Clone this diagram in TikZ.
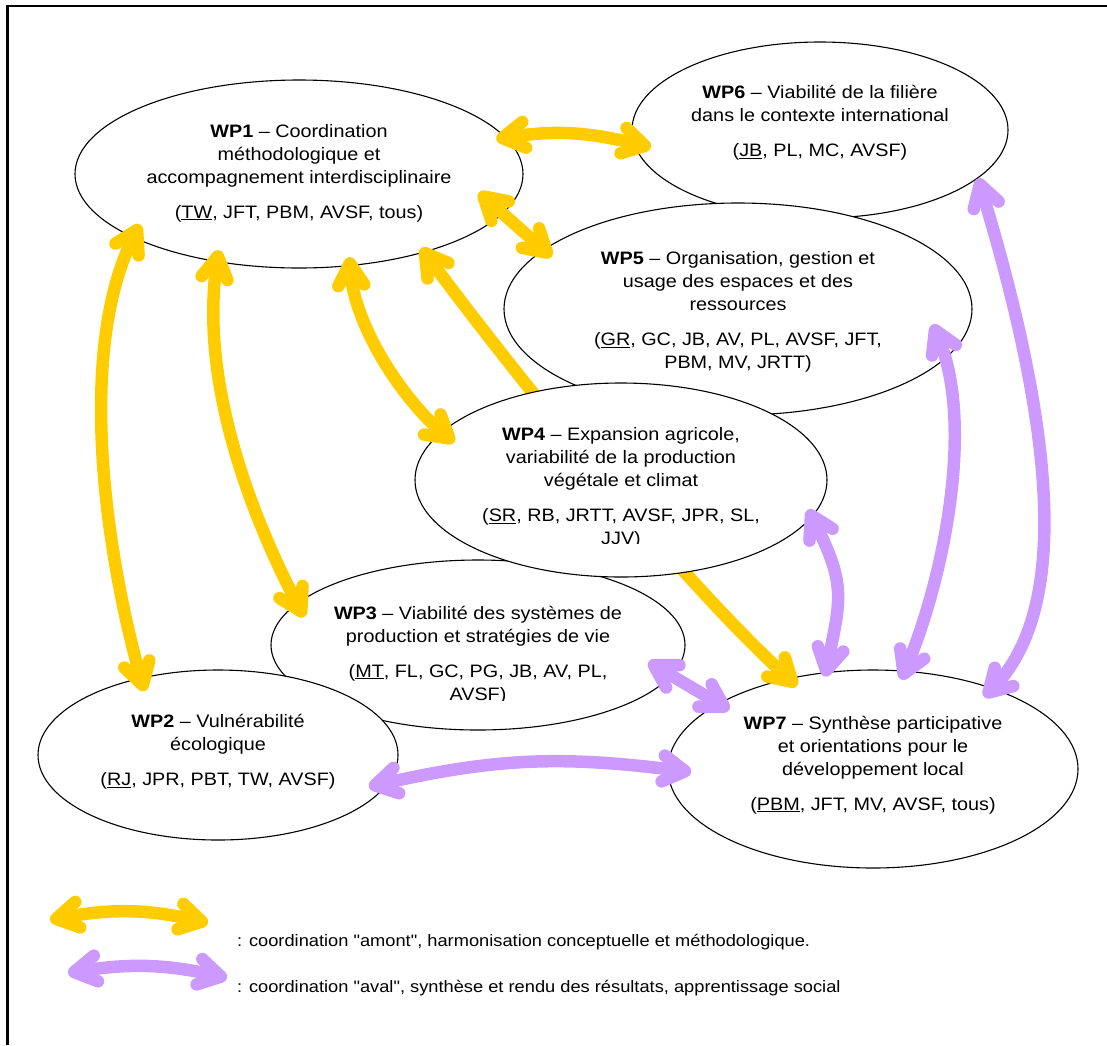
\documentclass[tikz,border=0pt]{standalone}
\usepackage{fontspec}
\setmainfont{Liberation Sans}[FakeStretch=1.1]
\newfontfamily\legendfont{Liberation Sans}[FakeStretch=1.1]
\usetikzlibrary{shapes.geometric,arrows.meta}
\definecolor{amontyellow}{RGB}{255,204,0}
\definecolor{avalpurple}{RGB}{204,153,255}

\begin{document}
\begin{tikzpicture}[x=1pt, y=-1pt,
    wpbox/.style={draw, ellipse, fill=white, line width=1.1pt, inner sep=0pt},
    wptext/.style={align=center, inner sep=0pt, font=\fontsize{18}{23}\selectfont},
    legendtext/.style={anchor=west, inner sep=0pt, font=\legendfont\fontsize{16.6}{20}\selectfont},
    coordarrow/.style={line width=12.5pt, >={Straight Barb[round, length=22pt, width=26pt]}, <->},
    amont/.style={coordarrow, draw=amontyellow},
    aval/.style={coordarrow, draw=avalpurple}
]
    \useasboundingbox (0,0) rectangle (1107,1045);
    \draw[line width=2.5pt] (7.5,1045) -- (7.5,6) -- (1107,6);

    % work packages
    \node[wpbox, minimum width=376pt, minimum height=176pt] (wp6) at (820,130) {};
    \node[wpbox, minimum width=468pt, minimum height=212pt] (wp5) at (738,309) {};
    \node[wpbox, minimum width=448pt, minimum height=188pt] (wp1) at (299,174) {};
    \node[wpbox, minimum width=414pt, minimum height=170pt] (wp3) at (478,645) {};
    \node[wpbox, minimum width=410pt, minimum height=198pt] (wp7) at (873,769) {};

    \draw[amont, shorten <=-5.5pt, shorten >=-11.5pt] (wp1.-32.2)
        .. controls (513,372) and (677.5,577) .. (wp7.133.9);

    \node[wpbox, minimum width=412pt, minimum height=194pt] (wp4) at (621,480) {};
    \node[wpbox, minimum width=360pt, minimum height=170pt] (wp2) at (218,755) {};

    \node[wptext] (wp1text) at ([yshift=1pt]wp1.center)
        {\textbf{WP1} – Coordination\\méthodologique et\\accompagnement interdisciplinaire\\[12pt](\underline{TW}, JFT, PBM, AVSF, tous)};
    \node[wptext] (wp6text) at ([yshift=7pt]wp6.center)
        {\textbf{WP6} – Viabilité de la filière\\dans le contexte international\\[12pt](\underline{JB}, PL, MC, AVSF)};
    \node[wptext] (wp5text) at ([yshift=-3pt]wp5.center)
        {\textbf{WP5} – Organisation, gestion et\\usage des espaces et des\\ressources\\[12pt](\underline{GR}, GC, JB, AV, PL, AVSF, JFT,\\PBM, MV, JRTT)};
    \begin{scope}
        \clip (400,380) rectangle (840,543);
        \node[wptext] (wp4text) at ([yshift=-8pt]wp4.center)
            {\textbf{WP4} – Expansion agricole,\\variabilité de la production\\végétale et climat\\[12pt](\underline{SR}, RB, JRTT, AVSF, JPR, SL,\\JJV)};
    \end{scope}
    \begin{scope}
        \clip (260,560) rectangle (700,700);
        \node[wptext] (wp3text) at ([yshift=-10pt]wp3.center)
            {\textbf{WP3} – Viabilité des systèmes de\\production et stratégies de vie\\[12pt](\underline{MT}, FL, GC, PG, JB, AV, PL,\\AVSF)};
    \end{scope}
    \node[wptext] (wp2text) at ([yshift=3pt]wp2.center)
        {\textbf{WP2} – Vulnérabilité\\écologique\\[12pt](\underline{RJ}, JPR, PBT, TW, AVSF)};
    \node[wptext] (wp7text) at ([yshift=4pt]wp7.center)
        {\textbf{WP7} – Synthèse participative\\et orientations pour le\\développement local\\[12pt](\underline{PBM}, JFT, MV, AVSF, tous)};

    % coordination amont
    \draw[amont, shorten <=-10pt, shorten >=-18pt] (wp1.10) to[bend left=11] (wp6.184);
    \draw[amont, shorten <=-32pt, shorten >=-11pt] (wp1.-11.5) -- (wp5.163.1);
    \draw[amont, shorten <=-15pt, shorten >=-14pt] (wp1.201.6)
        .. controls (74,353) and (108,563) .. (wp2.135.1);
    \draw[amont, shorten <=-12pt, shorten >=-15.6pt] (wp1.227.3)
        .. controls (199,380) and (250.5,515) .. (wp3.167);
    \draw[amont, shorten <=-9pt, shorten >=-16.6pt] (wp1.-61.9)
        .. controls (354,326) and (403,400.5) .. (wp4.165.7);

    % coordination aval
    \draw[aval, shorten <=-21pt, shorten >=-24pt] (wp2.-9.2) to[bend left=10] (wp7.180);
    \draw[aval, shorten <=-27pt, shorten >=-12.7pt] (wp3.-9) -- (wp7.157);
    \draw[aval, shorten <=-8.5pt, shorten >=-4.5pt] (wp4.-11.8)
        .. controls (846.7,584.7) and (840.9,599.1) .. (wp7.116);
    \draw[aval, shorten <=-36pt, shorten >=-9.7pt] (wp5.-13.6)
        .. controls (975.7,421.3) and (943.9,579.1) .. (wp7.72.5);
    \draw[aval, shorten >=-12.5pt] (wp6.-17.9)
        .. controls (1065,465) and (1061.7,618.3) .. (wp7.34.2);

    % legend
    \coordinate (amontstart) at (50,920);
    \coordinate (amontend) at (208,923);
    \coordinate (avalstart) at (68,973);
    \coordinate (avalend) at (227,978);
    \draw[amont] (amontstart) to[bend left=12] (amontend);
    \draw[aval] (avalstart) to[bend left=11] (avalend);
    \node[legendtext] (amontlabel) at (237,942)
        {: coordination "amont", harmonisation conceptuelle et méthodologique.};
    \node[legendtext] (avallabel) at (237,988)
        {: coordination "aval", synthèse et rendu des résultats, apprentissage social};
\end{tikzpicture}
\end{document}
